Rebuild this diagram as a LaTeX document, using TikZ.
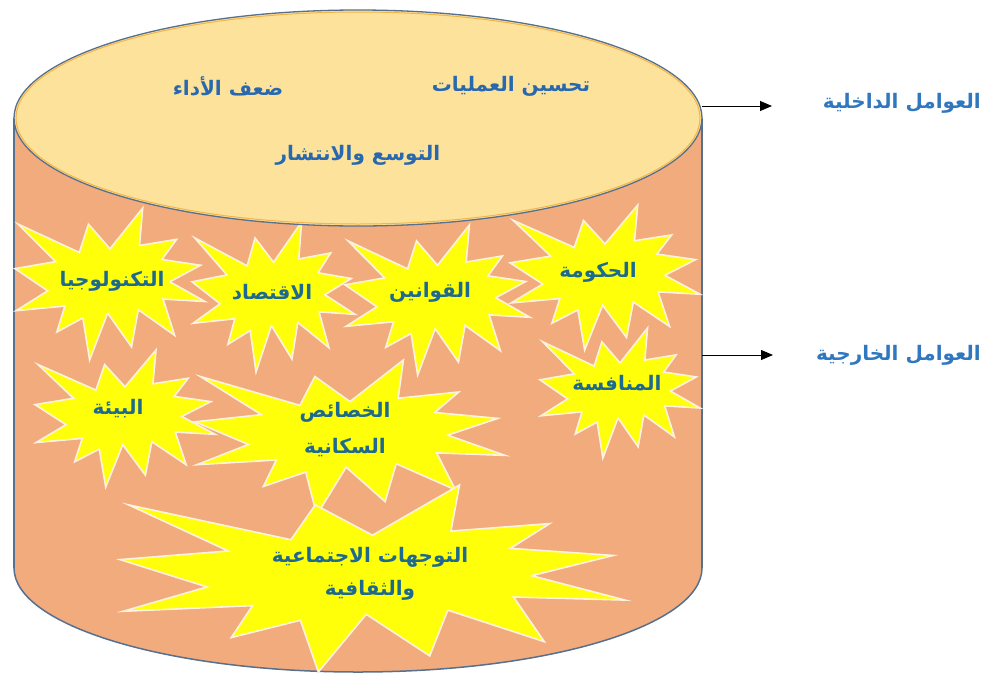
\documentclass[tikz,border=0pt]{standalone}
\usepackage{fontspec}
\usetikzlibrary{arrows.meta}
\TeXXeTstate=1
\newfontfamily\arabicfont[Script=Arabic]{DejaVu Sans}
\definecolor{bodyc}{HTML}{F2AB7C}
\definecolor{topc}{HTML}{FDE29B}
\definecolor{edgec}{HTML}{56708F}
\definecolor{rimc}{HTML}{F3B54A}
\definecolor{starc}{HTML}{FFFF0A}
\definecolor{starline}{HTML}{FFF2DF}
\definecolor{txtin}{HTML}{1E6A8E}
\definecolor{txttop}{HTML}{2768AE}
\definecolor{txtlbl}{HTML}{2F78BF}
\tikzset{
  seal/.pic={
    \path[fill=starc, draw=starline, line width=1.6pt, line join=miter]
      (50,26.85) -- (38.67,10.63) -- (33.85,29.26) -- (1.71,10.63) -- (21.42,35.26)
      -- (0,39.88) -- (17.23,54.51) -- (0.63,67.53) -- (26.24,64.52) -- (22.05,81.56)
      -- (35.72,72.35) -- (39.28,100) -- (48.76,69.14) -- (61.33,91.38) -- (64.91,66.93)
      -- (84.01,83.77) -- (77.95,59.92) -- (100,61.53) -- (81.51,48.50) -- (97.67,37.67)
      -- (77.32,33.87) -- (85.09,20.63) -- (65.53,24.65) -- (67.23,0) -- cycle;
  },
  intext/.style={font=\arabicfont\bfseries\fontsize{20}{36}\selectfont, text=txtin, align=center, inner sep=0pt},
  toptext/.style={font=\arabicfont\bfseries\fontsize{20}{24}\selectfont, text=txttop, inner sep=0pt},
  lbltext/.style={font=\arabicfont\bfseries\fontsize{20}{24}\selectfont, text=txtlbl, inner sep=0pt},
  conn/.style={-{Triangle[length=12pt,width=10pt]}, line width=0.8pt, black}
}
\begin{document}
\begin{tikzpicture}[x=1pt,y=-1pt]
\useasboundingbox (0,0) rectangle (990,675);
% cylinder body
\path[fill=bodyc, draw=edgec, line width=1.5pt] (358,568) ellipse [x radius=344, y radius=104];
\fill[bodyc] (14,118) rectangle (702,568);
\draw[edgec, line width=1.5pt] (14,118) -- (14,568);
\draw[edgec, line width=1.5pt] (702,118) -- (702,568);
% starbursts
\pic (s1) [shift={(15,208)}, xscale=1.90, yscale=1.52] {seal};
\pic (s2) [shift={(192,222)}, xscale=1.63, yscale=1.50] {seal};
\pic (s3) [shift={(345,225)}, xscale=1.85, yscale=1.50] {seal};
\pic (s4) [shift={(510,205)}, xscale=1.90, yscale=1.45] {seal};
\pic (s5) [shift={(540,328)}, xscale=1.60, yscale=1.30] {seal};
\pic (s6) [shift={(35,350)}, xscale=1.80, yscale=1.37] {seal};
\pic (s7) [shift={(195,360)}, xscale=3.10, yscale=1.55] {seal};
\pic (s8) [shift={(120,485)}, xscale=5.05, yscale=1.87] {seal};
% top ellipse
\path[fill=topc, draw=edgec, line width=1.3pt] (358,118) ellipse [x radius=344, y radius=108];
\draw[rimc, line width=1pt] (358,118) ellipse [x radius=342, y radius=106];
% top texts
\node[toptext] (t1) at (511,86) {\beginR تحسين العمليات\endR};
\node[toptext] (t2) at (228,86) {\beginR ضعف الأداء\endR};
\node[toptext] (t3) at (358,155) {\beginR التوسع والانتشار\endR};
% star texts
\node[intext] (n1) at (112,281) {\beginR التكنولوجيا\endR};
\node[intext] (n2) at (272,292) {\beginR الاقتصاد\endR};
\node[intext] (n3) at (430,292) {\beginR القوانين\endR};
\node[intext] (n4) at (598,272) {\beginR الحكومة\endR};
\node[intext] (n5) at (617,383) {\beginR المنافسة\endR};
\node[intext] (n6) at (118,409) {\beginR البيئة\endR};
\node[intext] (n7) at (345,430) {\beginR الخصائص\endR\\\beginR السكانية\endR};
\node[intext, font=\arabicfont\bfseries\fontsize{20}{33}\selectfont] (n8) at (370,574) {\beginR التوجهات الاجتماعية\endR\\\beginR والثقافية\endR};
% right labels
\node[lbltext, anchor=east] (lin) at (981,103) {\beginR العوامل الداخلية\endR};
\node[lbltext, anchor=east] (lex) at (981,355) {\beginR العوامل الخارجية\endR};
\coordinate (ain) at (702,106);
\coordinate (bin) at (772,106);
\coordinate (aex) at (702,355);
\coordinate (bex) at (773,355);
\draw[conn] (ain) -- (bin);
\draw[conn] (aex) -- (bex);
\end{tikzpicture}
\end{document}
